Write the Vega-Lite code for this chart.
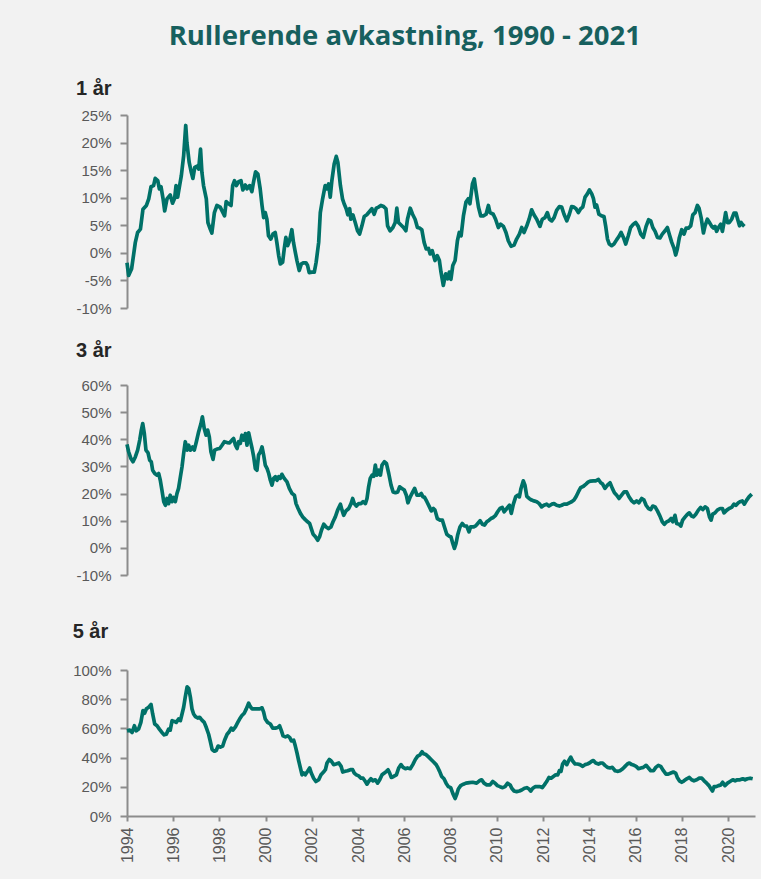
{
  "$schema": "https://vega.github.io/schema/vega-lite/v6.json",
  "background": "#f2f2f2",
  "padding": {"left": 72, "top": 22, "right": 6, "bottom": 35},
  "title": {"text": "Rullerende avkastning, 1990 - 2021", "font": "Open Sans", "fontSize": 27.5, "fontWeight": "bold", "color": "#17605e", "anchor": "middle", "offset": 29, "dx": -9},
  "config": {
    "view": {"stroke": null},
    "axis": {"domainColor": "#8c8c8c", "domainWidth": 2, "tickColor": "#8c8c8c", "tickWidth": 2, "labelFont": "Liberation Sans", "labelFontSize": 15, "labelColor": "#595959", "grid": false, "title": null, "labelOverlap": false},
    "axisY": {"tickSize": 7, "labelPadding": 9},
    "axisX": {"tickSize": 5, "labelPadding": 6}
  },
  "spacing": 39,
  "datasets": {
    "p1": [
      {"t":1994.0,"v":-1.8},{"t":1994.07,"v":-4.1},{"t":1994.2,"v":-2.9},{"t":1994.36,"v":1.9},{"t":1994.46,"v":3.7},{"t":1994.58,"v":4.3},{"t":1994.69,"v":7.9},{"t":1994.84,"v":8.6},{"t":1994.94,"v":9.8},{"t":1995.04,"v":12.0},{"t":1995.15,"v":12.2},{"t":1995.22,"v":13.5},{"t":1995.33,"v":13.1},{"t":1995.4,"v":11.6},{"t":1995.47,"v":12.0},{"t":1995.56,"v":9.8},{"t":1995.63,"v":7.6},{"t":1995.73,"v":9.8},{"t":1995.87,"v":10.5},{"t":1995.97,"v":9.0},{"t":1996.06,"v":9.9},{"t":1996.12,"v":12.2},{"t":1996.19,"v":10.1},{"t":1996.28,"v":12.3},{"t":1996.35,"v":14.0},{"t":1996.45,"v":17.6},{"t":1996.54,"v":23.1},{"t":1996.59,"v":20.0},{"t":1996.69,"v":16.4},{"t":1996.78,"v":14.6},{"t":1996.85,"v":13.5},{"t":1996.93,"v":15.5},{"t":1997.03,"v":15.7},{"t":1997.1,"v":15.2},{"t":1997.18,"v":18.8},{"t":1997.24,"v":14.6},{"t":1997.31,"v":12.2},{"t":1997.43,"v":9.8},{"t":1997.5,"v":5.5},{"t":1997.6,"v":4.3},{"t":1997.67,"v":3.6},{"t":1997.78,"v":7.3},{"t":1997.89,"v":8.6},{"t":1998.03,"v":8.3},{"t":1998.15,"v":7.3},{"t":1998.22,"v":6.7},{"t":1998.29,"v":9.3},{"t":1998.39,"v":8.9},{"t":1998.5,"v":8.6},{"t":1998.57,"v":12.2},{"t":1998.65,"v":13.1},{"t":1998.73,"v":12.2},{"t":1998.83,"v":12.9},{"t":1998.93,"v":13.1},{"t":1999.01,"v":11.4},{"t":1999.12,"v":12.3},{"t":1999.19,"v":11.6},{"t":1999.3,"v":12.2},{"t":1999.4,"v":11.1},{"t":1999.47,"v":12.8},{"t":1999.56,"v":14.7},{"t":1999.66,"v":14.3},{"t":1999.76,"v":11.6},{"t":1999.84,"v":8.6},{"t":1999.91,"v":6.4},{"t":1999.98,"v":7.3},{"t":2000.05,"v":6.1},{"t":2000.12,"v":3.1},{"t":2000.22,"v":2.5},{"t":2000.31,"v":3.4},{"t":2000.41,"v":3.7},{"t":2000.48,"v":1.9},{"t":2000.56,"v":-0.5},{"t":2000.63,"v":-2.0},{"t":2000.73,"v":-1.7},{"t":2000.8,"v":0.7},{"t":2000.87,"v":2.8},{"t":2000.95,"v":1.3},{"t":2001.03,"v":2.2},{"t":2001.13,"v":4.2},{"t":2001.2,"v":1.9},{"t":2001.28,"v":0.1},{"t":2001.35,"v":-1.4},{"t":2001.45,"v":-3.2},{"t":2001.54,"v":-2.0},{"t":2001.64,"v":-1.8},{"t":2001.74,"v":-1.8},{"t":2001.81,"v":-2.3},{"t":2001.88,"v":-3.6},{"t":2002.0,"v":-3.5},{"t":2002.1,"v":-3.5},{"t":2002.18,"v":-1.7},{"t":2002.29,"v":1.9},{"t":2002.36,"v":7.3},{"t":2002.46,"v":9.8},{"t":2002.57,"v":12.2},{"t":2002.65,"v":11.6},{"t":2002.72,"v":12.5},{"t":2002.79,"v":10.1},{"t":2002.86,"v":13.1},{"t":2002.96,"v":16.1},{"t":2003.05,"v":17.5},{"t":2003.12,"v":16.4},{"t":2003.23,"v":12.2},{"t":2003.32,"v":9.8},{"t":2003.39,"v":8.9},{"t":2003.48,"v":8.0},{"t":2003.55,"v":6.9},{"t":2003.63,"v":8.0},{"t":2003.68,"v":6.1},{"t":2003.77,"v":6.9},{"t":2003.87,"v":5.5},{"t":2003.97,"v":4.0},{"t":2004.06,"v":3.4},{"t":2004.16,"v":4.9},{"t":2004.26,"v":6.6},{"t":2004.37,"v":6.9},{"t":2004.49,"v":7.5},{"t":2004.59,"v":8.0},{"t":2004.69,"v":7.0},{"t":2004.78,"v":8.1},{"t":2004.88,"v":8.3},{"t":2004.98,"v":8.6},{"t":2005.1,"v":8.4},{"t":2005.2,"v":8.0},{"t":2005.27,"v":4.9},{"t":2005.38,"v":4.0},{"t":2005.5,"v":4.6},{"t":2005.6,"v":5.5},{"t":2005.67,"v":8.1},{"t":2005.74,"v":5.5},{"t":2005.84,"v":5.1},{"t":2005.96,"v":4.6},{"t":2006.06,"v":4.0},{"t":2006.13,"v":6.1},{"t":2006.25,"v":8.1},{"t":2006.35,"v":7.0},{"t":2006.46,"v":6.1},{"t":2006.56,"v":4.6},{"t":2006.65,"v":4.5},{"t":2006.75,"v":4.2},{"t":2006.85,"v":1.9},{"t":2006.94,"v":0.7},{"t":2007.04,"v":0.8},{"t":2007.11,"v":-0.2},{"t":2007.2,"v":0.4},{"t":2007.32,"v":-1.4},{"t":2007.42,"v":-0.5},{"t":2007.51,"v":-1.4},{"t":2007.58,"v":-3.5},{"t":2007.68,"v":-5.9},{"t":2007.78,"v":-3.8},{"t":2007.87,"v":-4.7},{"t":2007.94,"v":-3.5},{"t":2008.01,"v":-4.8},{"t":2008.09,"v":-2.3},{"t":2008.19,"v":-1.4},{"t":2008.29,"v":2.2},{"t":2008.37,"v":3.7},{"t":2008.45,"v":3.1},{"t":2008.55,"v":6.7},{"t":2008.66,"v":9.2},{"t":2008.76,"v":9.8},{"t":2008.83,"v":8.9},{"t":2008.94,"v":12.5},{"t":2009.02,"v":13.4},{"t":2009.09,"v":11.3},{"t":2009.2,"v":8.3},{"t":2009.3,"v":6.7},{"t":2009.41,"v":6.7},{"t":2009.53,"v":7.0},{"t":2009.63,"v":8.6},{"t":2009.7,"v":7.3},{"t":2009.84,"v":7.0},{"t":2009.94,"v":6.1},{"t":2010.06,"v":4.6},{"t":2010.16,"v":5.2},{"t":2010.28,"v":4.8},{"t":2010.39,"v":3.7},{"t":2010.49,"v":2.2},{"t":2010.61,"v":1.2},{"t":2010.74,"v":1.4},{"t":2010.85,"v":2.5},{"t":2010.97,"v":3.4},{"t":2011.07,"v":4.6},{"t":2011.17,"v":3.7},{"t":2011.29,"v":4.9},{"t":2011.39,"v":6.1},{"t":2011.5,"v":7.8},{"t":2011.6,"v":6.9},{"t":2011.72,"v":6.1},{"t":2011.86,"v":4.8},{"t":2011.96,"v":6.1},{"t":2012.08,"v":6.4},{"t":2012.18,"v":7.3},{"t":2012.27,"v":6.1},{"t":2012.37,"v":5.8},{"t":2012.47,"v":6.4},{"t":2012.58,"v":7.7},{"t":2012.7,"v":8.4},{"t":2012.8,"v":8.3},{"t":2012.9,"v":7.0},{"t":2013.02,"v":5.8},{"t":2013.13,"v":7.0},{"t":2013.23,"v":8.4},{"t":2013.33,"v":8.3},{"t":2013.42,"v":8.0},{"t":2013.52,"v":7.3},{"t":2013.62,"v":8.0},{"t":2013.71,"v":8.3},{"t":2013.81,"v":10.1},{"t":2013.91,"v":10.7},{"t":2014.0,"v":11.4},{"t":2014.1,"v":10.7},{"t":2014.17,"v":9.9},{"t":2014.24,"v":8.3},{"t":2014.31,"v":8.7},{"t":2014.41,"v":7.0},{"t":2014.53,"v":6.7},{"t":2014.63,"v":6.6},{"t":2014.7,"v":4.9},{"t":2014.78,"v":2.5},{"t":2014.86,"v":1.6},{"t":2014.96,"v":1.3},{"t":2015.06,"v":1.6},{"t":2015.18,"v":2.4},{"t":2015.28,"v":3.0},{"t":2015.37,"v":3.7},{"t":2015.47,"v":2.8},{"t":2015.57,"v":1.6},{"t":2015.68,"v":3.1},{"t":2015.78,"v":4.6},{"t":2015.9,"v":5.2},{"t":2016.0,"v":5.5},{"t":2016.11,"v":4.8},{"t":2016.22,"v":3.4},{"t":2016.33,"v":2.8},{"t":2016.45,"v":4.8},{"t":2016.56,"v":6.0},{"t":2016.65,"v":5.8},{"t":2016.74,"v":4.6},{"t":2016.84,"v":3.9},{"t":2016.94,"v":2.8},{"t":2017.05,"v":2.7},{"t":2017.15,"v":3.4},{"t":2017.27,"v":4.0},{"t":2017.37,"v":4.6},{"t":2017.46,"v":3.3},{"t":2017.56,"v":1.9},{"t":2017.66,"v":0.8},{"t":2017.73,"v":-0.4},{"t":2017.8,"v":0.7},{"t":2017.89,"v":2.8},{"t":2017.99,"v":4.2},{"t":2018.09,"v":3.4},{"t":2018.18,"v":4.5},{"t":2018.28,"v":4.5},{"t":2018.38,"v":4.9},{"t":2018.47,"v":6.9},{"t":2018.57,"v":7.3},{"t":2018.67,"v":8.6},{"t":2018.74,"v":8.1},{"t":2018.83,"v":6.4},{"t":2018.93,"v":3.6},{"t":2019.0,"v":4.9},{"t":2019.1,"v":6.1},{"t":2019.19,"v":5.5},{"t":2019.29,"v":4.8},{"t":2019.36,"v":4.5},{"t":2019.43,"v":4.8},{"t":2019.5,"v":3.9},{"t":2019.58,"v":4.6},{"t":2019.68,"v":5.2},{"t":2019.75,"v":3.9},{"t":2019.82,"v":5.5},{"t":2019.89,"v":7.3},{"t":2019.97,"v":5.5},{"t":2020.05,"v":5.5},{"t":2020.15,"v":6.1},{"t":2020.25,"v":7.2},{"t":2020.34,"v":7.2},{"t":2020.41,"v":6.1},{"t":2020.49,"v":4.9},{"t":2020.56,"v":5.5},{"t":2020.63,"v":5.1},{"t":2020.7,"v":4.8}
    ],
    "p2": [
      {"t":1994.0,"v":38.1},{"t":1994.07,"v":35.4},{"t":1994.17,"v":32.9},{"t":1994.26,"v":31.7},{"t":1994.36,"v":33.5},{"t":1994.46,"v":36.0},{"t":1994.55,"v":39.7},{"t":1994.62,"v":43.4},{"t":1994.68,"v":45.8},{"t":1994.75,"v":42.1},{"t":1994.82,"v":36.0},{"t":1994.91,"v":35.0},{"t":1994.98,"v":32.3},{"t":1995.05,"v":31.7},{"t":1995.11,"v":28.6},{"t":1995.2,"v":27.4},{"t":1995.3,"v":26.8},{"t":1995.37,"v":27.4},{"t":1995.44,"v":24.9},{"t":1995.51,"v":21.3},{"t":1995.59,"v":17.0},{"t":1995.66,"v":15.7},{"t":1995.73,"v":18.2},{"t":1995.8,"v":16.3},{"t":1995.87,"v":19.4},{"t":1995.95,"v":17.0},{"t":1996.02,"v":18.6},{"t":1996.09,"v":17.0},{"t":1996.16,"v":20.0},{"t":1996.23,"v":21.9},{"t":1996.31,"v":26.2},{"t":1996.38,"v":29.9},{"t":1996.45,"v":34.8},{"t":1996.52,"v":39.1},{"t":1996.6,"v":36.0},{"t":1996.67,"v":37.8},{"t":1996.74,"v":36.0},{"t":1996.84,"v":37.2},{"t":1996.91,"v":36.0},{"t":1997.0,"v":39.1},{"t":1997.1,"v":42.8},{"t":1997.2,"v":45.8},{"t":1997.26,"v":48.3},{"t":1997.34,"v":44.0},{"t":1997.42,"v":41.5},{"t":1997.49,"v":43.4},{"t":1997.56,"v":40.9},{"t":1997.63,"v":35.4},{"t":1997.72,"v":32.6},{"t":1997.79,"v":36.0},{"t":1997.89,"v":36.4},{"t":1998.01,"v":36.6},{"t":1998.11,"v":37.8},{"t":1998.21,"v":39.1},{"t":1998.33,"v":38.8},{"t":1998.44,"v":38.7},{"t":1998.54,"v":39.7},{"t":1998.61,"v":40.3},{"t":1998.69,"v":37.8},{"t":1998.76,"v":36.6},{"t":1998.83,"v":39.1},{"t":1998.9,"v":38.5},{"t":1998.97,"v":41.5},{"t":1999.05,"v":39.7},{"t":1999.12,"v":42.1},{"t":1999.19,"v":37.8},{"t":1999.26,"v":42.4},{"t":1999.33,"v":39.7},{"t":1999.41,"v":36.6},{"t":1999.48,"v":33.5},{"t":1999.55,"v":29.2},{"t":1999.62,"v":28.6},{"t":1999.69,"v":34.2},{"t":1999.77,"v":35.4},{"t":1999.84,"v":37.2},{"t":1999.91,"v":34.2},{"t":1999.98,"v":30.5},{"t":2000.06,"v":29.2},{"t":2000.13,"v":27.4},{"t":2000.2,"v":24.9},{"t":2000.27,"v":23.1},{"t":2000.34,"v":25.6},{"t":2000.42,"v":26.2},{"t":2000.49,"v":24.9},{"t":2000.56,"v":26.2},{"t":2000.63,"v":25.6},{"t":2000.7,"v":27.1},{"t":2000.8,"v":25.6},{"t":2000.92,"v":24.3},{"t":2001.02,"v":21.9},{"t":2001.14,"v":20.0},{"t":2001.24,"v":19.4},{"t":2001.31,"v":16.3},{"t":2001.4,"v":14.5},{"t":2001.5,"v":12.7},{"t":2001.6,"v":11.4},{"t":2001.71,"v":10.4},{"t":2001.81,"v":9.6},{"t":2001.9,"v":9.0},{"t":2001.97,"v":7.1},{"t":2002.05,"v":5.0},{"t":2002.15,"v":4.1},{"t":2002.25,"v":2.8},{"t":2002.33,"v":4.1},{"t":2002.41,"v":6.5},{"t":2002.51,"v":8.7},{"t":2002.61,"v":7.7},{"t":2002.72,"v":7.1},{"t":2002.82,"v":7.7},{"t":2002.91,"v":9.6},{"t":2003.01,"v":11.4},{"t":2003.11,"v":13.9},{"t":2003.23,"v":16.1},{"t":2003.3,"v":13.9},{"t":2003.37,"v":12.0},{"t":2003.47,"v":13.6},{"t":2003.59,"v":14.5},{"t":2003.69,"v":16.3},{"t":2003.76,"v":18.2},{"t":2003.83,"v":16.3},{"t":2003.92,"v":15.4},{"t":2004.02,"v":16.3},{"t":2004.12,"v":16.3},{"t":2004.21,"v":17.0},{"t":2004.31,"v":16.3},{"t":2004.38,"v":18.2},{"t":2004.45,"v":22.5},{"t":2004.52,"v":25.6},{"t":2004.6,"v":26.8},{"t":2004.67,"v":26.4},{"t":2004.74,"v":30.5},{"t":2004.81,"v":26.8},{"t":2004.89,"v":28.6},{"t":2004.96,"v":26.8},{"t":2005.03,"v":30.5},{"t":2005.13,"v":31.7},{"t":2005.22,"v":31.1},{"t":2005.32,"v":27.4},{"t":2005.42,"v":23.1},{"t":2005.51,"v":20.6},{"t":2005.61,"v":20.3},{"t":2005.71,"v":20.6},{"t":2005.79,"v":22.5},{"t":2005.89,"v":21.9},{"t":2005.99,"v":21.3},{"t":2006.08,"v":19.4},{"t":2006.15,"v":16.6},{"t":2006.25,"v":18.8},{"t":2006.36,"v":20.6},{"t":2006.44,"v":21.9},{"t":2006.54,"v":19.4},{"t":2006.64,"v":19.4},{"t":2006.73,"v":20.0},{"t":2006.8,"v":18.8},{"t":2006.87,"v":18.6},{"t":2006.97,"v":17.0},{"t":2007.08,"v":15.1},{"t":2007.16,"v":13.6},{"t":2007.25,"v":14.5},{"t":2007.32,"v":13.9},{"t":2007.42,"v":10.8},{"t":2007.54,"v":10.2},{"t":2007.64,"v":10.2},{"t":2007.73,"v":7.7},{"t":2007.83,"v":5.0},{"t":2007.93,"v":4.3},{"t":2008.01,"v":4.1},{"t":2008.09,"v":1.6},{"t":2008.16,"v":-0.2},{"t":2008.23,"v":1.6},{"t":2008.3,"v":4.7},{"t":2008.4,"v":7.7},{"t":2008.5,"v":9.0},{"t":2008.59,"v":8.1},{"t":2008.69,"v":8.0},{"t":2008.79,"v":5.9},{"t":2008.86,"v":7.7},{"t":2008.98,"v":7.7},{"t":2009.08,"v":8.1},{"t":2009.17,"v":9.0},{"t":2009.27,"v":10.0},{"t":2009.37,"v":8.7},{"t":2009.46,"v":8.4},{"t":2009.56,"v":9.6},{"t":2009.66,"v":10.2},{"t":2009.74,"v":10.8},{"t":2009.84,"v":11.2},{"t":2009.94,"v":12.0},{"t":2010.03,"v":13.3},{"t":2010.13,"v":14.5},{"t":2010.23,"v":14.9},{"t":2010.31,"v":13.3},{"t":2010.39,"v":14.1},{"t":2010.46,"v":14.9},{"t":2010.54,"v":15.7},{"t":2010.62,"v":12.7},{"t":2010.71,"v":16.1},{"t":2010.81,"v":18.8},{"t":2010.9,"v":19.4},{"t":2010.97,"v":18.8},{"t":2011.04,"v":21.9},{"t":2011.14,"v":24.7},{"t":2011.21,"v":23.1},{"t":2011.29,"v":19.0},{"t":2011.39,"v":18.2},{"t":2011.5,"v":17.6},{"t":2011.6,"v":17.3},{"t":2011.72,"v":17.0},{"t":2011.83,"v":16.3},{"t":2011.93,"v":15.1},{"t":2012.03,"v":15.7},{"t":2012.15,"v":16.1},{"t":2012.25,"v":15.4},{"t":2012.37,"v":16.1},{"t":2012.47,"v":16.3},{"t":2012.58,"v":15.7},{"t":2012.7,"v":15.4},{"t":2012.8,"v":15.7},{"t":2012.9,"v":16.1},{"t":2013.02,"v":16.1},{"t":2013.13,"v":16.6},{"t":2013.23,"v":17.0},{"t":2013.33,"v":17.6},{"t":2013.42,"v":18.8},{"t":2013.52,"v":20.6},{"t":2013.62,"v":22.2},{"t":2013.74,"v":22.7},{"t":2013.85,"v":23.5},{"t":2013.95,"v":24.3},{"t":2014.05,"v":24.6},{"t":2014.17,"v":24.7},{"t":2014.27,"v":24.7},{"t":2014.39,"v":25.2},{"t":2014.49,"v":24.0},{"t":2014.57,"v":23.5},{"t":2014.67,"v":21.9},{"t":2014.78,"v":23.1},{"t":2014.89,"v":24.0},{"t":2014.99,"v":21.9},{"t":2015.08,"v":20.3},{"t":2015.18,"v":19.4},{"t":2015.28,"v":18.2},{"t":2015.39,"v":19.4},{"t":2015.5,"v":20.6},{"t":2015.61,"v":20.6},{"t":2015.71,"v":18.8},{"t":2015.83,"v":17.3},{"t":2015.93,"v":16.6},{"t":2016.04,"v":17.3},{"t":2016.14,"v":16.6},{"t":2016.26,"v":18.2},{"t":2016.36,"v":17.6},{"t":2016.45,"v":15.7},{"t":2016.55,"v":14.5},{"t":2016.65,"v":14.1},{"t":2016.74,"v":15.4},{"t":2016.84,"v":15.1},{"t":2016.94,"v":13.6},{"t":2017.05,"v":11.7},{"t":2017.15,"v":9.6},{"t":2017.24,"v":8.7},{"t":2017.34,"v":9.6},{"t":2017.44,"v":10.0},{"t":2017.53,"v":10.8},{"t":2017.6,"v":9.6},{"t":2017.7,"v":12.0},{"t":2017.77,"v":9.0},{"t":2017.88,"v":8.7},{"t":2017.95,"v":8.0},{"t":2018.03,"v":10.2},{"t":2018.14,"v":11.4},{"t":2018.24,"v":12.4},{"t":2018.32,"v":12.9},{"t":2018.42,"v":11.7},{"t":2018.5,"v":11.4},{"t":2018.6,"v":12.4},{"t":2018.71,"v":13.9},{"t":2018.81,"v":14.9},{"t":2018.9,"v":14.1},{"t":2019.0,"v":15.1},{"t":2019.1,"v":14.5},{"t":2019.19,"v":11.4},{"t":2019.26,"v":10.2},{"t":2019.33,"v":12.4},{"t":2019.43,"v":12.9},{"t":2019.53,"v":13.9},{"t":2019.65,"v":14.5},{"t":2019.75,"v":14.5},{"t":2019.82,"v":12.9},{"t":2019.94,"v":13.9},{"t":2020.04,"v":14.5},{"t":2020.15,"v":14.9},{"t":2020.25,"v":16.1},{"t":2020.34,"v":15.7},{"t":2020.44,"v":16.6},{"t":2020.51,"v":17.0},{"t":2020.61,"v":17.3},{"t":2020.7,"v":16.1},{"t":2020.8,"v":17.6},{"t":2020.9,"v":18.8},{"t":2021.02,"v":19.8}
    ],
    "p3": [
      {"t":1994.0,"v":58.3},{"t":1994.12,"v":58.8},{"t":1994.22,"v":57.2},{"t":1994.32,"v":61.8},{"t":1994.4,"v":58.3},{"t":1994.5,"v":59.5},{"t":1994.6,"v":64.1},{"t":1994.69,"v":72.2},{"t":1994.76,"v":70.4},{"t":1994.84,"v":73.4},{"t":1994.94,"v":74.5},{"t":1995.04,"v":76.4},{"t":1995.11,"v":69.9},{"t":1995.2,"v":63.0},{"t":1995.3,"v":61.8},{"t":1995.4,"v":59.5},{"t":1995.51,"v":57.2},{"t":1995.61,"v":55.6},{"t":1995.7,"v":56.0},{"t":1995.8,"v":59.5},{"t":1995.87,"v":58.8},{"t":1995.95,"v":65.3},{"t":1996.05,"v":64.8},{"t":1996.13,"v":64.1},{"t":1996.23,"v":66.4},{"t":1996.31,"v":65.3},{"t":1996.38,"v":69.9},{"t":1996.45,"v":74.5},{"t":1996.52,"v":81.5},{"t":1996.6,"v":88.4},{"t":1996.67,"v":87.3},{"t":1996.74,"v":81.5},{"t":1996.81,"v":73.4},{"t":1996.88,"v":69.9},{"t":1996.96,"v":68.1},{"t":1997.06,"v":67.1},{"t":1997.14,"v":67.6},{"t":1997.24,"v":65.7},{"t":1997.34,"v":64.1},{"t":1997.43,"v":60.6},{"t":1997.53,"v":56.0},{"t":1997.6,"v":51.4},{"t":1997.68,"v":45.6},{"t":1997.78,"v":44.4},{"t":1997.86,"v":44.9},{"t":1997.94,"v":47.9},{"t":1998.04,"v":47.2},{"t":1998.14,"v":47.9},{"t":1998.22,"v":51.9},{"t":1998.33,"v":56.0},{"t":1998.43,"v":57.9},{"t":1998.51,"v":60.2},{"t":1998.58,"v":58.8},{"t":1998.69,"v":61.1},{"t":1998.79,"v":64.1},{"t":1998.87,"v":66.4},{"t":1998.97,"v":68.8},{"t":1999.07,"v":70.4},{"t":1999.16,"v":73.4},{"t":1999.26,"v":77.3},{"t":1999.33,"v":75.0},{"t":1999.41,"v":73.4},{"t":1999.51,"v":73.4},{"t":1999.62,"v":73.4},{"t":1999.74,"v":73.4},{"t":1999.84,"v":74.1},{"t":1999.91,"v":71.1},{"t":1999.98,"v":66.4},{"t":2000.08,"v":64.1},{"t":2000.2,"v":63.0},{"t":2000.3,"v":60.2},{"t":2000.42,"v":60.2},{"t":2000.52,"v":60.6},{"t":2000.6,"v":61.8},{"t":2000.68,"v":58.3},{"t":2000.75,"v":54.9},{"t":2000.85,"v":54.2},{"t":2000.95,"v":54.9},{"t":2001.04,"v":53.7},{"t":2001.11,"v":51.4},{"t":2001.21,"v":51.9},{"t":2001.28,"v":47.9},{"t":2001.35,"v":43.3},{"t":2001.43,"v":37.5},{"t":2001.5,"v":32.9},{"t":2001.57,"v":28.2},{"t":2001.64,"v":29.4},{"t":2001.71,"v":28.2},{"t":2001.81,"v":30.6},{"t":2001.9,"v":32.9},{"t":2001.97,"v":29.4},{"t":2002.07,"v":25.9},{"t":2002.17,"v":23.6},{"t":2002.29,"v":24.8},{"t":2002.39,"v":28.2},{"t":2002.5,"v":30.1},{"t":2002.58,"v":31.7},{"t":2002.65,"v":36.3},{"t":2002.75,"v":38.7},{"t":2002.84,"v":37.5},{"t":2002.94,"v":35.2},{"t":2003.04,"v":35.6},{"t":2003.16,"v":36.3},{"t":2003.26,"v":34.0},{"t":2003.33,"v":30.1},{"t":2003.44,"v":30.6},{"t":2003.54,"v":31.0},{"t":2003.66,"v":31.7},{"t":2003.76,"v":31.7},{"t":2003.83,"v":29.4},{"t":2003.92,"v":28.2},{"t":2004.02,"v":27.5},{"t":2004.12,"v":25.9},{"t":2004.21,"v":25.9},{"t":2004.31,"v":23.6},{"t":2004.38,"v":21.8},{"t":2004.45,"v":23.6},{"t":2004.55,"v":25.5},{"t":2004.64,"v":24.1},{"t":2004.74,"v":24.8},{"t":2004.84,"v":22.5},{"t":2004.93,"v":24.8},{"t":2005.03,"v":28.2},{"t":2005.13,"v":29.4},{"t":2005.22,"v":30.6},{"t":2005.29,"v":31.7},{"t":2005.36,"v":29.4},{"t":2005.43,"v":26.4},{"t":2005.53,"v":27.1},{"t":2005.65,"v":28.2},{"t":2005.75,"v":32.9},{"t":2005.85,"v":35.2},{"t":2005.94,"v":33.3},{"t":2006.04,"v":32.4},{"t":2006.13,"v":32.9},{"t":2006.25,"v":32.4},{"t":2006.36,"v":35.2},{"t":2006.47,"v":38.7},{"t":2006.57,"v":41.0},{"t":2006.66,"v":41.7},{"t":2006.76,"v":44.0},{"t":2006.83,"v":42.6},{"t":2006.93,"v":42.1},{"t":2007.05,"v":40.3},{"t":2007.15,"v":38.7},{"t":2007.26,"v":37.0},{"t":2007.37,"v":35.2},{"t":2007.45,"v":32.9},{"t":2007.52,"v":30.6},{"t":2007.61,"v":27.1},{"t":2007.71,"v":25.5},{"t":2007.8,"v":22.5},{"t":2007.9,"v":20.1},{"t":2008.0,"v":19.4},{"t":2008.09,"v":15.5},{"t":2008.19,"v":12.0},{"t":2008.26,"v":14.8},{"t":2008.33,"v":18.5},{"t":2008.43,"v":20.8},{"t":2008.55,"v":21.8},{"t":2008.66,"v":22.5},{"t":2008.81,"v":22.9},{"t":2008.95,"v":23.1},{"t":2009.12,"v":22.5},{"t":2009.24,"v":24.1},{"t":2009.34,"v":24.8},{"t":2009.44,"v":22.5},{"t":2009.56,"v":21.3},{"t":2009.7,"v":21.3},{"t":2009.82,"v":23.6},{"t":2009.92,"v":22.5},{"t":2010.02,"v":20.8},{"t":2010.13,"v":20.1},{"t":2010.25,"v":19.4},{"t":2010.35,"v":20.1},{"t":2010.46,"v":22.5},{"t":2010.57,"v":21.3},{"t":2010.64,"v":19.0},{"t":2010.74,"v":17.1},{"t":2010.85,"v":16.7},{"t":2010.97,"v":17.1},{"t":2011.07,"v":17.8},{"t":2011.19,"v":19.0},{"t":2011.29,"v":19.4},{"t":2011.39,"v":18.5},{"t":2011.46,"v":17.1},{"t":2011.55,"v":19.0},{"t":2011.65,"v":20.1},{"t":2011.75,"v":20.1},{"t":2011.86,"v":20.1},{"t":2011.96,"v":19.4},{"t":2012.05,"v":21.3},{"t":2012.15,"v":23.6},{"t":2012.25,"v":26.4},{"t":2012.34,"v":25.9},{"t":2012.44,"v":27.1},{"t":2012.54,"v":28.2},{"t":2012.63,"v":28.2},{"t":2012.7,"v":31.0},{"t":2012.77,"v":30.6},{"t":2012.84,"v":35.6},{"t":2012.92,"v":37.5},{"t":2013.02,"v":35.2},{"t":2013.09,"v":37.5},{"t":2013.19,"v":40.3},{"t":2013.28,"v":37.5},{"t":2013.38,"v":35.6},{"t":2013.48,"v":35.6},{"t":2013.59,"v":35.2},{"t":2013.71,"v":34.0},{"t":2013.81,"v":35.2},{"t":2013.91,"v":35.6},{"t":2014.0,"v":36.3},{"t":2014.1,"v":37.5},{"t":2014.17,"v":38.0},{"t":2014.27,"v":36.3},{"t":2014.39,"v":35.6},{"t":2014.49,"v":36.3},{"t":2014.57,"v":36.3},{"t":2014.67,"v":34.7},{"t":2014.78,"v":33.3},{"t":2014.89,"v":32.9},{"t":2014.99,"v":33.3},{"t":2015.11,"v":31.0},{"t":2015.21,"v":30.6},{"t":2015.32,"v":31.0},{"t":2015.44,"v":32.4},{"t":2015.54,"v":34.0},{"t":2015.64,"v":35.6},{"t":2015.73,"v":36.3},{"t":2015.83,"v":35.2},{"t":2015.93,"v":34.7},{"t":2016.02,"v":34.0},{"t":2016.12,"v":32.4},{"t":2016.22,"v":32.9},{"t":2016.33,"v":33.3},{"t":2016.45,"v":34.7},{"t":2016.55,"v":32.9},{"t":2016.65,"v":31.0},{"t":2016.77,"v":31.0},{"t":2016.87,"v":33.3},{"t":2016.98,"v":34.7},{"t":2017.08,"v":34.0},{"t":2017.2,"v":31.0},{"t":2017.31,"v":28.7},{"t":2017.41,"v":28.7},{"t":2017.52,"v":29.4},{"t":2017.63,"v":30.1},{"t":2017.73,"v":29.4},{"t":2017.8,"v":26.4},{"t":2017.89,"v":24.1},{"t":2017.99,"v":23.1},{"t":2018.09,"v":24.1},{"t":2018.21,"v":25.5},{"t":2018.32,"v":26.4},{"t":2018.42,"v":24.8},{"t":2018.52,"v":24.1},{"t":2018.64,"v":24.8},{"t":2018.75,"v":25.9},{"t":2018.86,"v":25.9},{"t":2018.96,"v":24.1},{"t":2019.07,"v":22.5},{"t":2019.17,"v":20.8},{"t":2019.24,"v":19.0},{"t":2019.32,"v":17.1},{"t":2019.39,"v":20.1},{"t":2019.48,"v":20.1},{"t":2019.58,"v":20.8},{"t":2019.68,"v":21.3},{"t":2019.76,"v":23.1},{"t":2019.86,"v":20.8},{"t":2019.97,"v":22.5},{"t":2020.08,"v":23.6},{"t":2020.2,"v":24.8},{"t":2020.3,"v":24.1},{"t":2020.4,"v":24.8},{"t":2020.51,"v":24.8},{"t":2020.63,"v":25.5},{"t":2020.73,"v":24.8},{"t":2020.83,"v":25.5},{"t":2020.95,"v":25.9},{"t":2021.06,"v":25.5}
    ]
  },
  "vconcat": [
    {
      "spacing": 25,
      "vconcat": [
        {
          "width": 628, "height": 193,
          "title": {"text": "1 år", "anchor": "start", "font": "Liberation Sans", "fontSize": 20, "fontWeight": "bold", "color": "#262626", "offset": 9},
          "layer": [
            {"mark": {"type": "rule", "color": "#8c8c8c", "strokeWidth": 2},
             "encoding": {"y": {"datum": 0, "type": "quantitative", "scale": {"domain": [-10, 25], "nice": false, "zero": false}, "axis": {"values": [-10, -5, 0, 5, 10, 15, 20, 25], "labelExpr": "datum.value + '%'"}}}},
            {"data": {"name": "p1"}, "mark": {"type": "line", "color": "#007168", "strokeWidth": 3.7, "strokeJoin": "round"},
             "encoding": {
               "x": {"field": "t", "type": "quantitative", "scale": {"domain": [1994, 2021.16], "nice": false, "zero": false}, "axis": null},
               "y": {"field": "v", "type": "quantitative", "scale": {"domain": [-10, 25], "nice": false, "zero": false}, "axis": {"values": [-10, -5, 0, 5, 10, 15, 20, 25], "labelExpr": "datum.value + '%'"}}
             }}
          ]
        },
        {
          "width": 628, "height": 190,
          "title": {"text": "3 år", "anchor": "start", "font": "Liberation Sans", "fontSize": 20, "fontWeight": "bold", "color": "#262626", "offset": 17},
          "layer": [
            {"mark": {"type": "rule", "color": "#8c8c8c", "strokeWidth": 2},
             "encoding": {"y": {"datum": 0, "type": "quantitative", "scale": {"domain": [-10, 60], "nice": false, "zero": false}, "axis": {"values": [-10, 0, 10, 20, 30, 40, 50, 60], "labelExpr": "datum.value + '%'"}}}},
            {"data": {"name": "p2"}, "mark": {"type": "line", "color": "#007168", "strokeWidth": 3.7, "strokeJoin": "round"},
             "encoding": {
               "x": {"field": "t", "type": "quantitative", "scale": {"domain": [1994, 2021.16], "nice": false, "zero": false}, "axis": null},
               "y": {"field": "v", "type": "quantitative", "scale": {"domain": [-10, 60], "nice": false, "zero": false}, "axis": {"values": [-10, 0, 10, 20, 30, 40, 50, 60], "labelExpr": "datum.value + '%'"}}
             }}
          ]
        }
      ]
    },
    {
      "width": 628, "height": 146,
      "title": {"text": "5 år", "anchor": "start", "font": "Liberation Sans", "fontSize": 20, "fontWeight": "bold", "color": "#262626", "offset": 21},
      "data": {"name": "p3"},
      "mark": {"type": "line", "color": "#007168", "strokeWidth": 3.7, "strokeJoin": "round"},
      "encoding": {
        "x": {"field": "t", "type": "quantitative", "scale": {"domain": [1994, 2021.16], "nice": false, "zero": false}, "axis": {"values": [1994, 1996, 1998, 2000, 2002, 2004, 2006, 2008, 2010, 2012, 2014, 2016, 2018, 2020], "format": "d", "labelAngle": -90, "labelFontSize": 16}},
        "y": {"field": "v", "type": "quantitative", "scale": {"domain": [0, 100], "nice": false, "zero": false}, "axis": {"values": [0, 20, 40, 60, 80, 100], "labelExpr": "datum.value + '%'"}}
      }
    }
  ]
}
